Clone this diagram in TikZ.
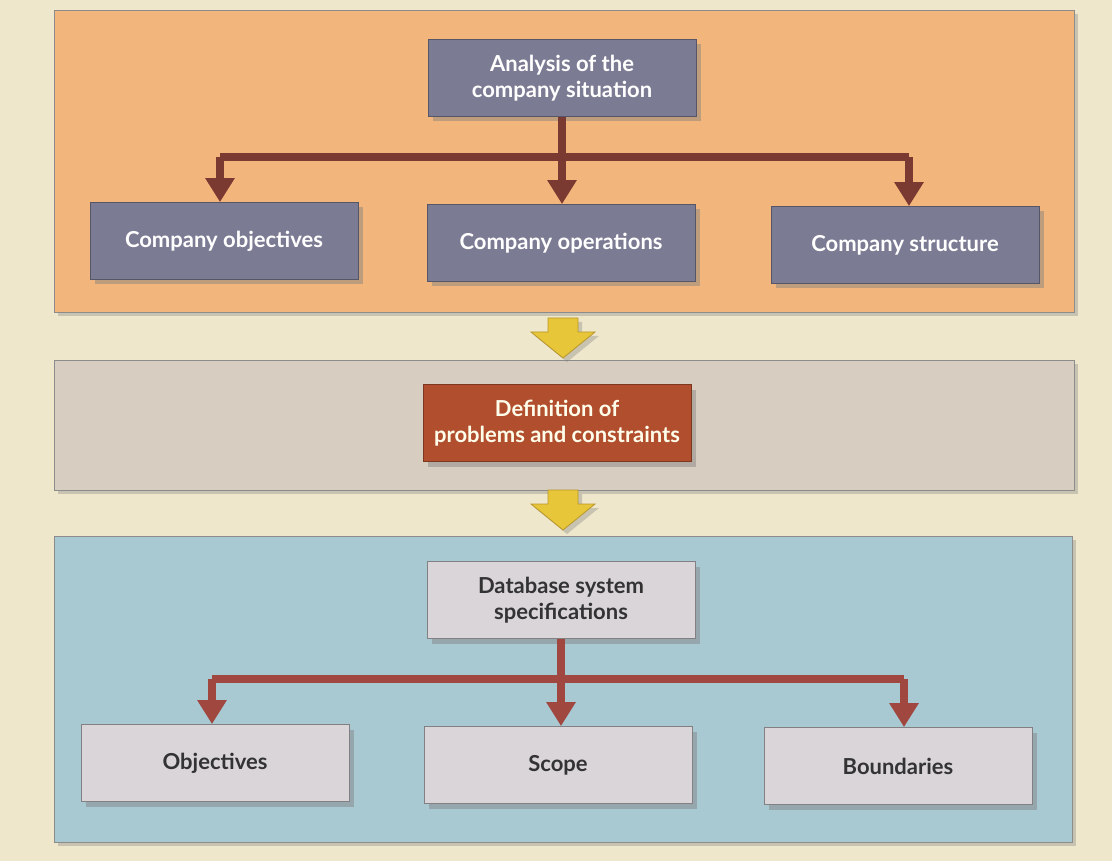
\documentclass[tikz,border=0pt]{standalone}
\usepackage{fontspec}
\setmainfont{Lato}
\usetikzlibrary{arrows.meta,shadows}
\definecolor{bgc}{HTML}{EFE7CC}
\definecolor{orangep}{HTML}{F2B57C}
\definecolor{greyp}{HTML}{D8CDC1}
\definecolor{bluep}{HTML}{A8C8D2}
\definecolor{darkbox}{HTML}{7C7B94}
\definecolor{redbox}{HTML}{B04E2E}
\definecolor{lightbox}{HTML}{D9D5D9}
\definecolor{arrowc}{HTML}{7B3A31}
\definecolor{arrowc2}{HTML}{A04840}
\definecolor{yel}{HTML}{E8C639}
\definecolor{yeld}{HTML}{B8962A}
\tikzset{
  panel/.style={draw=black!45, line width=0.8pt, drop shadow={opacity=0.35, shadow xshift=4pt, shadow yshift=-4pt}},
  boxbase/.style={rectangle, minimum width=268pt, minimum height=77pt, align=center,
     font=\bfseries\fontsize{22}{26}\selectfont, line width=0.8pt,
     drop shadow={opacity=0.45, shadow xshift=5pt, shadow yshift=-5pt}},
  darkb/.style={boxbase, fill=darkbox, draw=darkbox!70!black, text=white},
  redb/.style={boxbase, fill=redbox, draw=redbox!70!black, text=white!92!yellow},
  lightb/.style={boxbase, fill=lightbox, draw=lightbox!60!black, text=black!80},
  bar/.style={draw=#1, line width=8pt},
  arr/.style={draw=#1, line width=8pt, -{Triangle[width=28pt,length=24pt]}},
  yarrow/.style={fill=yel, draw=yeld, line width=0.8pt, drop shadow={opacity=0.35, shadow xshift=4pt, shadow yshift=-4pt}},
}
\begin{document}
\begin{tikzpicture}[x=1pt,y=-1pt]
\useasboundingbox (0,0) rectangle (1112,861);
\fill[bgc] (0,0) rectangle (1112,861);
% panels
\path[panel, fill=orangep] (54,10) rectangle (1074,312);
\path[panel, fill=greyp] (54,360) rectangle (1074,490);
\path[panel, fill=bluep] (54,536) rectangle (1072,842);
% yellow arrows
\path[yarrow] (548,318) -- (578,318) -- (578,332) -- (595,332) -- (563,358) -- (531,332) -- (548,332) -- cycle;
\path[yarrow] (548,490) -- (578,490) -- (578,504) -- (595,504) -- (563,530) -- (531,504) -- (548,504) -- cycle;
% top section
\node[darkb] (ana) at (562,78) {Analysis of the\\company situation};
\node[darkb] (obj) at (224,241) {Company objectives};
\node[darkb] (ops) at (561,243) {Company operations};
\node[darkb] (str) at (905,245) {Company structure};
\coordinate (bar1) at (0,157);
\draw[bar=arrowc] ([xshift=-4pt]obj.north |- bar1) -- ([xshift=4pt]str.north |- bar1);
\draw[arr=arrowc] (ana.south) -- (ana.south |- ops.north);
\draw[arr=arrowc] ([xshift=-4pt]obj.north |- bar1) -- ([xshift=-4pt]obj.north);
\draw[arr=arrowc] ([xshift=4pt]str.north |- bar1) -- ([xshift=4pt]str.north);
% middle
\node[redb] (def) at (557,423) {Definition of\\problems and constraints};
% bottom section
\node[lightb] (db) at (561,600) {Database system\\specifications};
\node[lightb] (o2) at (215,763) {Objectives};
\node[lightb] (sc) at (558,765) {Scope};
\node[lightb] (bd) at (898,766) {Boundaries};
\coordinate (bar2) at (0,679);
\draw[bar=arrowc2] ([xshift=-3pt]o2.north |- bar2) -- ([xshift=6pt]bd.north |- bar2);
\draw[arr=arrowc2] (db.south) -- (db.south |- sc.north);
\draw[arr=arrowc2] ([xshift=-3pt]o2.north |- bar2) -- ([xshift=-3pt]o2.north);
\draw[arr=arrowc2] ([xshift=6pt]bd.north |- bar2) -- ([xshift=6pt]bd.north);
\end{tikzpicture}
\end{document}
